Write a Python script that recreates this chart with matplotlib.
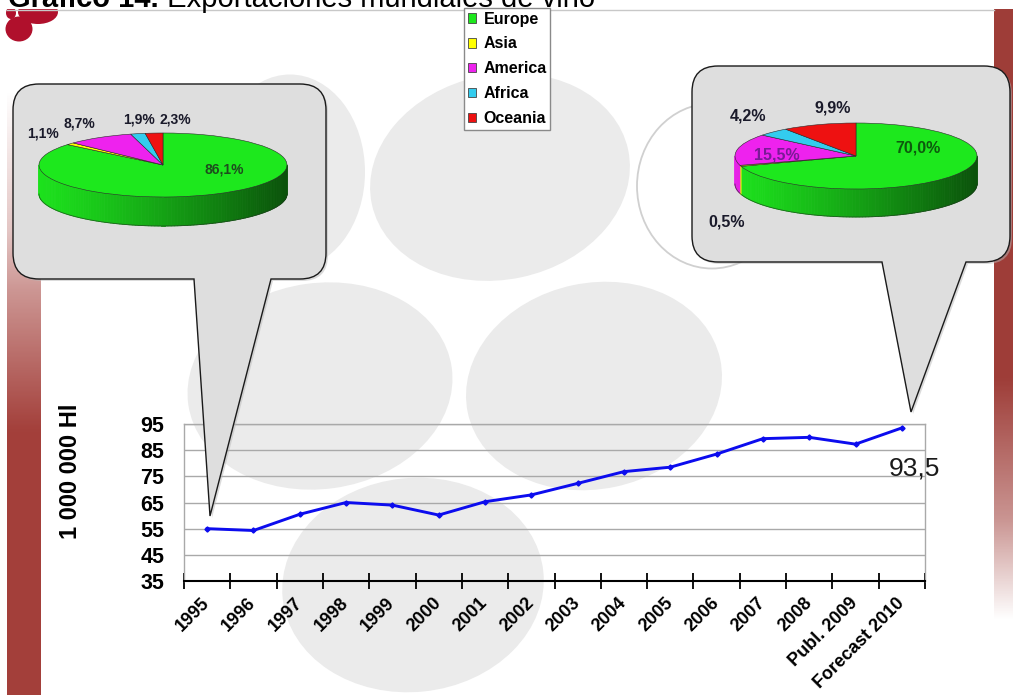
import numpy as np
import matplotlib
matplotlib.use("Agg")
import matplotlib.pyplot as plt
from matplotlib.patches import Ellipse, PathPatch, Patch, Rectangle
from matplotlib.collections import PolyCollection
from matplotlib.path import Path
from matplotlib.transforms import Affine2D

plt.rcParams['font.family'] = ['Liberation Sans', 'DejaVu Sans']

# ---------------- data ----------------
years = ['1995', '1996', '1997', '1998', '1999', '2000', '2001', '2002',
         '2003', '2004', '2005', '2006', '2007', '2008', 'Publ. 2009',
         'Forecast 2010']
exports = [55.0, 54.3, 60.5, 65.0, 64.0, 60.2, 65.3, 67.9,
           72.3, 76.8, 78.5, 83.5, 89.4, 89.9, 87.3, 93.5]

regions = ['Europe', 'Asia', 'America', 'Africa', 'Oceania']
share_1995 = [86.1, 1.1, 8.7, 1.9, 2.3]
share_2010 = [70.0, 0.5, 15.5, 4.2, 9.9]
region_colors = ['#1de81d', '#ffff00', '#ee22ee', '#33ccee', '#ee1111']

y_ticks = [35, 45, 55, 65, 75, 85, 95]

# ---------------- figure / helpers ----------------
W, H = 1013, 695
fig = plt.figure(figsize=(W / 100, H / 100), dpi=100)
fig.patch.set_facecolor('white')


def fig_rect(x0, y0, x1, y1):
    """pixel box (y downward) -> figure fraction rect"""
    return [x0 / W, 1 - y1 / H, (x1 - x0) / W, (y1 - y0) / H]


def pct(v):
    return f'{v:.1f}'.replace('.', ',') + '%'


def pixel_axes(z):
    a = fig.add_axes([0, 0, 1, 1], zorder=z)
    a.set_xlim(0, W)
    a.set_ylim(H, 0)
    a.axis('off')
    a.patch.set_alpha(0)
    return a


# ---------------- slide background ----------------
bg = pixel_axes(0)

blob_grey = '#ebebeb'
for (cx, cy, w, h, ang) in [(290, 172, 150, 195, 0),
                            (500, 177, 262, 205, -12),
                            (320, 386, 266, 206, -8),
                            (594, 386, 258, 206, -12),
                            (413, 585, 262, 214, -6)]:
    bg.add_patch(Ellipse((cx, cy), w, h, angle=ang, fc=blob_grey, ec='none'))
bg.add_patch(Ellipse((712, 186), 150, 165, fc='white', ec='#d0d0d0', lw=1.3))

# dark red side bands with vertical fades
band_rgb = np.array([0.64, 0.25, 0.23])
rows = np.linspace(90, H, 300)
alpha_left = np.interp(rows, [90, 230, 290, 430, H], [0.0, 0.3, 0.55, 1.0, 1.0])
img_left = np.zeros((len(rows), 1, 4))
img_left[:, 0, :3] = band_rgb
img_left[:, 0, 3] = alpha_left
bg.imshow(img_left, extent=(7, 41, H, 90), aspect='auto', interpolation='bilinear')

rows_r = np.linspace(8, H, 300)
alpha_right = np.interp(rows_r, [8, 380, 520, 620, H], [1.0, 1.0, 0.55, 0.0, 0.0])
img_right = np.zeros((len(rows_r), 1, 4))
img_right[:, 0, :3] = band_rgb * 0.97
img_right[:, 0, 3] = alpha_right
bg.imshow(img_right, extent=(994, W, H, 8), aspect='auto', interpolation='bilinear')

# grape logo
for (cx, cy, w, h) in [(38, 12, 40, 24), (19, 29, 27, 25), (11, 13, 10, 12)]:
    bg.add_patch(Ellipse((cx, cy), w, h, fc='#b0102c', ec='none'))
bg.add_patch(Rectangle((0, 0), W, 9, fc='white', ec='none'))
bg.plot([7, 994], [10, 10], color='#c8c8c8', lw=1)
bg.set_xlim(0, W)
bg.set_ylim(H, 0)

# ---------------- line chart ----------------
ax = fig.add_axes(fig_rect(184, 424, 925, 581), zorder=1)
ax.patch.set_alpha(0)
xpos = np.arange(len(years))
ax.plot(xpos, exports, color='#0c0cee', lw=2.1, marker='D', ms=2.6, zorder=3)
ax.set_xlim(-0.5, len(years) - 0.5)
ax.set_ylim(y_ticks[0], y_ticks[-1])
ax.set_yticks(y_ticks)
ax.grid(axis='y', color='#a9a9a9', lw=1)
ax.set_axisbelow(True)
ax.tick_params(axis='y', length=0, pad=14, labelsize=15.5)
for lab in ax.get_yticklabels():
    lab.set_fontweight('bold')

ax.set_xticks(np.arange(-0.5, len(years), 1.0))
ax.set_xticklabels([])
ax.set_xticks(xpos, labels=years, minor=True)
ax.tick_params(axis='x', which='major', direction='inout', length=11, width=1.3,
               color='black')
ax.tick_params(axis='x', which='minor', length=0, pad=14, labelsize=13)
for lab in ax.get_xticklabels(minor=True):
    lab.set_rotation(45)
    lab.set_ha('right')
    lab.set_va('center')
    lab.set_rotation_mode('anchor')
    lab.set_fontweight('bold')

for side in ['left', 'right', 'top']:
    ax.spines[side].set_color('#a9a9a9')
    ax.spines[side].set_linewidth(1)
ax.spines['bottom'].set_color('black')
ax.spines['bottom'].set_linewidth(1.5)

ax.set_ylabel('1 000 000 Hl', fontsize=17, fontweight='bold')
ax.yaxis.set_label_coords(-0.138, 0.70)

ax.annotate(f'{exports[-1]:.1f}'.replace('.', ','), xy=(xpos[-1], exports[-1]),
            xytext=(9, -29), textcoords='offset points', ha='center',
            va='center', fontsize=19, color='#1a1a1a', annotation_clip=False)

# ---------------- callouts ----------------
ov = pixel_axes(2)


def callout_path(x0, y0, x1, y1, r, xa, xb, tip):
    verts = [(x0 + r, y0), (x1 - r, y0), (x1, y0), (x1, y0 + r),
             (x1, y1 - r), (x1, y1), (x1 - r, y1),
             (xb, y1), tip, (xa, y1),
             (x0 + r, y1), (x0, y1), (x0, y1 - r),
             (x0, y0 + r), (x0, y0), (x0 + r, y0), (x0 + r, y0)]
    codes = [Path.MOVETO, Path.LINETO, Path.CURVE3, Path.CURVE3,
             Path.LINETO, Path.CURVE3, Path.CURVE3,
             Path.LINETO, Path.LINETO, Path.LINETO,
             Path.LINETO, Path.CURVE3, Path.CURVE3,
             Path.LINETO, Path.CURVE3, Path.CURVE3, Path.CLOSEPOLY]
    return Path(verts, codes)


for args in [(13, 84, 326, 279, 26, 194, 271, (210, 516)),
             (692, 66, 1010, 262, 26, 882, 966, (911, 412))]:
    p = callout_path(*args)
    ov.add_patch(PathPatch(p.transformed(Affine2D().translate(2, 2)),
                           fc='#b8b8b8', ec='none', alpha=0.5))
    ov.add_patch(PathPatch(p, fc='#dedede', ec='#1a1a1a', lw=1.0))

# ---------------- 3-D pies ----------------


def draw_pie(shares, cx, cy, a, b, depth):
    pax = fig.add_axes(fig_rect(cx - a - 1, cy - b - 1, cx + a + 1, cy + b + depth + 1),
                       zorder=3)
    d = depth / b
    bounds = np.concatenate([[0], np.cumsum(shares)]) / sum(shares) * 360
    quads, fills = [], []
    for col, s, e in zip(region_colors, bounds[:-1], bounds[1:]):
        lo, hi = max(s, 90), min(e, 270)
        if hi <= lo:
            continue
        rgb = np.array(matplotlib.colors.to_rgb(col))
        phi = np.radians(np.linspace(lo, hi, max(3, int((hi - lo) / 1.5))))
        for p0, p1 in zip(phi[:-1], phi[1:]):
            x0, x1 = np.sin(p0), np.sin(p1)
            y0, y1 = np.cos(p0), np.cos(p1)
            quads.append([(x0, y0), (x1, y1), (x1, y1 - d), (x0, y0 - d)])
            t = ((x0 + x1) / 2 + 1) / 2
            f = 0.97 - 0.62 * t ** 1.2
            fills.append(np.clip(rgb * f, 0, 1))
    pax.add_collection(PolyCollection(quads, facecolors=fills, edgecolors=fills,
                                      linewidths=0.6))
    phi = np.radians(np.linspace(90, 270, 120))
    pax.plot(np.sin(phi), np.cos(phi) - d, color='#1e3a1e', lw=0.6, alpha=0.7)
    pax.pie(shares, colors=region_colors, startangle=90, counterclock=False,
            radius=1, wedgeprops=dict(edgecolor='#2a2a2a', linewidth=0.4))
    pax.set_aspect('auto')
    pax.set_xlim(-1 - 1 / a, 1 + 1 / a)
    pax.set_ylim(-1 - d - 1 / b, 1 + 1 / b)
    pax.axis('off')


draw_pie(share_1995, 163, 165, 124, 32, 29)
draw_pie(share_2010, 856, 156, 121, 33, 28)

# percentage labels (Europe, Asia, America, Africa, Oceania)
lab_ax = pixel_axes(4)
label_pos_1995 = [(224, 170), (43, 133), (79, 124), (139, 120), (175, 120)]
label_col_1995 = ['#1d4d1d', '#1a1a2a', '#1a1a2a', '#1a1a2a', '#1a1a2a']
label_pos_2010 = [(918, 148), (727, 222), (777, 155), (748, 116), (833, 108)]
label_col_2010 = ['#0d5a0d', '#1a1a2a', '#7a1a96', '#1a1a2a', '#1a1a2a']
for v, (px, py), c in zip(share_1995, label_pos_1995, label_col_1995):
    lab_ax.text(px, py, pct(v), ha='center', va='center', fontsize=10,
                fontweight='bold', color=c)
for v, (px, py), c in zip(share_2010, label_pos_2010, label_col_2010):
    lab_ax.text(px, py, pct(v), ha='center', va='center', fontsize=11.5,
                fontweight='bold', color=c)

# ---------------- legend ----------------
handles = [Patch(facecolor=c, edgecolor='#444444', lw=0.6) for c in region_colors]
leg = fig.legend(handles, regions, loc='upper left',
                 bbox_to_anchor=(464 / W, 1 - 8 / H), borderaxespad=0,
                 frameon=True, fancybox=False, edgecolor='#8a8a8a', framealpha=1,
                 prop={'weight': 'bold', 'size': 11.5}, handlelength=0.55,
                 handleheight=0.55, handletextpad=0.45, labelspacing=0.62,
                 borderpad=0.22)
leg.set_zorder(8)

# ---------------- heading (runs off the top edge of the slide) ----------------
t1 = fig.text(8 / W, 1 - 7 / H, 'Gráfico 14.', fontsize=21, fontweight='bold',
              va='baseline', ha='left', zorder=9)
lab_ax.annotate(' Exportaciones mundiales de vino', xy=(1, 0), xycoords=t1,
                va='bottom', ha='left', fontsize=21, annotation_clip=False,
                zorder=9)

fig.savefig('out.png', dpi=100)
